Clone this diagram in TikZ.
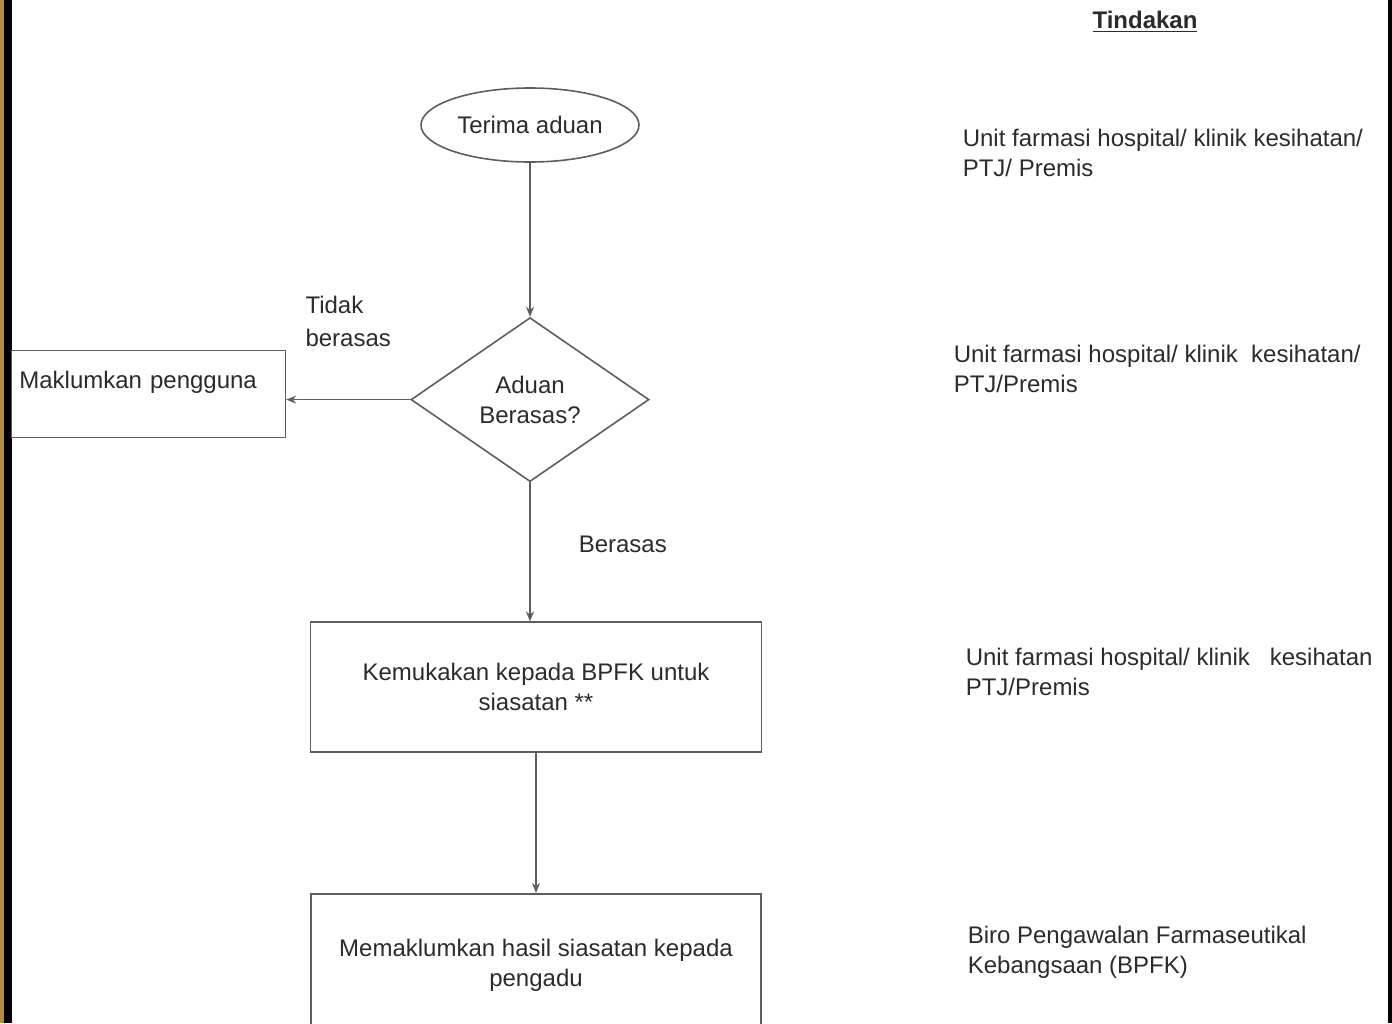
\documentclass[tikz,border=0pt]{standalone}
\usepackage{fontspec}
\setmainfont{Liberation Sans}
\usepackage{xcolor}
\usepackage{tikz}
\usetikzlibrary{arrows.meta,positioning,shapes.geometric}

\definecolor{inkgray}{HTML}{2B2B2B}
\definecolor{linegray}{HTML}{5E5E5E}
\definecolor{framegold}{HTML}{B08D3A}

\begin{document}
\begin{tikzpicture}[
  x=1pt, y=1pt,
  every node/.style={text=inkgray, font=\fontsize{12}{15}\selectfont},
  terminal/.style={ellipse, draw=linegray, line width=0.8pt, inner sep=0pt,
    minimum width=109pt, minimum height=37pt},
  decision/.style={diamond, draw=linegray, line width=0.8pt, aspect=1.45,
    minimum width=119pt, minimum height=82pt, align=center},
  process/.style={rectangle, draw=linegray, line width=0.8pt, align=center},
  aksi/.style={anchor=west, align=left, inner sep=0pt},
  ->,>={Stealth[length=5pt,width=4pt]}, line width=0.8pt, draw=linegray
]
  \useasboundingbox (0,0) rectangle (696,-511.5);
  \clip (0,0) rectangle (696,-511.5);

  % frame edges
  \fill[framegold] (0,0) rectangle (2,-511.5);
  \fill[black] (2,0) rectangle (6,-511.5);
  \fill[black] (694,0) rectangle (696,-511.5);

  % flow
  \node[terminal] (terima) at (265,-62.5) {Terima aduan};
  \node[decision, below=77pt of terima] (aduan) {Aduan\\Berasas?};
  \node[process, left=62pt of aduan, yshift=2.75pt, minimum width=137pt,
    text width=129pt, align=left, inner xsep=4pt, inner ysep=4.5pt,
    text height=14.5pt, text depth=20pt] (maklum) {Maklumkan pengguna};
  \node[process, below=69.5pt of aduan, xshift=3pt, minimum width=225.5pt,
    minimum height=65pt] (kemuka) {Kemukakan kepada BPFK untuk\\siasatan **};
  \node[process, below=70pt of kemuka, minimum width=225pt,
    minimum height=71pt] (hasil) {Memaklumkan hasil siasatan kepada\\pengadu};

  \draw (terima) -- (aduan);
  \draw (aduan.west) -- node[above=26pt, align=left, inner sep=0pt] (lbltidak) {Tidak\\[1.5pt]berasas} (aduan.west -| maklum.east);
  \draw (aduan.south) -- node[right=24pt, yshift=4pt, inner sep=0pt] (lblberasas) {Berasas} (aduan.south |- kemuka.north);
  \draw (kemuka) -- (hasil);

  % tindakan column
  \node[inner sep=0pt] (tindakan) at (572.5,-11) {\underline{\textbf{Tindakan}}};
  \node[aksi] (aksi1) at (481,-76.5) {Unit farmasi hospital/ klinik kesihatan/\\PTJ/ Premis};
  \node[aksi] (aksi2) at (476.5,-184.5) {Unit farmasi hospital/ klinik\ \ kesihatan/\\PTJ/Premis};
  \node[aksi] (aksi3) at (482.5,-336) {Unit farmasi hospital/ klinik\ \ \ kesihatan\\PTJ/Premis};
  \node[aksi] (aksi4) at (483.5,-476) {Biro Pengawalan Farmaseutikal\\Kebangsaan (BPFK)};
\end{tikzpicture}
\end{document}
